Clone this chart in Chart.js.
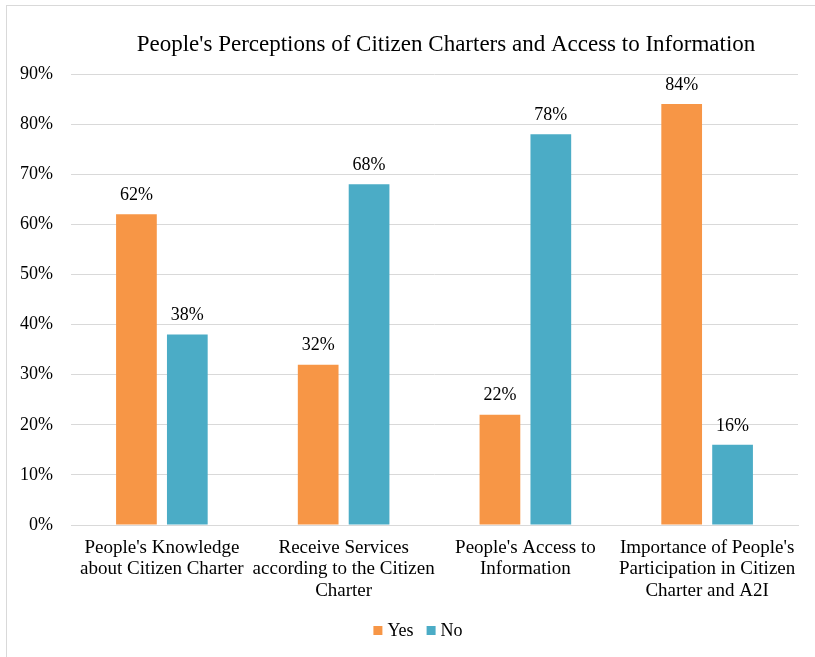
<!DOCTYPE html>
<html>
<head>
<meta charset="utf-8">
<script src="https://cdn.jsdelivr.net/npm/chart.js@4"></script>
<style>
  html, body { margin: 0; padding: 0; background: #fff; }
  #frame { position: absolute; left: 6px; top: 5px; width: 809px; height: 652px;
           border-left: 1px solid #d9d9d9; border-top: 1px solid #d9d9d9; }
  #wrap { position: absolute; left: 0; top: 0; width: 815px; height: 657px; }
</style>
</head>
<body>
<div id="frame"></div>
<div id="wrap"><canvas id="chart"></canvas></div>
<script>
  // Categories and series
  const categories = [
    ["People's Knowledge", "about Citizen Charter"],
    ["Receive Services", "according to the Citizen", "Charter"],
    ["People's Access to", "Information"],
    ["Importance of People's", "Participation in Citizen", "Charter and A2I"]
  ];
  const seriesNames = ['Yes', 'No'];
  const yesValues = [62, 32, 22, 84];
  const noValues = [38, 68, 78, 16];
  const yTicks = [0, 10, 20, 30, 40, 50, 60, 70, 80, 90];
  const chartTitle = "People's Perceptions of Citizen Charters and Access to Information";

  const serif = "'Liberation Serif', 'Times New Roman', serif";

  // Title, value labels and legend drawn by hand so they sit where the original has them
  const decorations = {
    id: 'decorations',
    afterDatasetsDraw(chart) {
      const ctx = chart.ctx;
      ctx.save();
      ctx.fillStyle = '#000';

      // value labels above bars
      ctx.font = '18px ' + serif;
      ctx.textAlign = 'center';
      ctx.textBaseline = 'middle';
      chart.data.datasets.forEach(function (ds, i) {
        chart.getDatasetMeta(i).data.forEach(function (bar, j) {
          ctx.fillText(ds.data[j] + '%', bar.x, bar.y - 19);
        });
      });

      // title
      ctx.font = '23px ' + serif;
      ctx.textBaseline = 'alphabetic';
      ctx.fillText(chartTitle, 446, 51);

      // legend
      ctx.font = '18px ' + serif;
      ctx.textAlign = 'left';
      ctx.textBaseline = 'middle';
      const box = 9, gap = 5, spacing = 13, cy = 631;
      const widths = chart.data.datasets.map(function (ds) { return ctx.measureText(ds.label).width; });
      let total = 0;
      widths.forEach(function (w, i) { total += box + gap + w + (i ? spacing : 0); });
      let x = 418 - total / 2;
      chart.data.datasets.forEach(function (ds, i) {
        ctx.fillStyle = ds.backgroundColor;
        ctx.fillRect(x, cy - 5, box, box);
        ctx.fillStyle = '#000';
        ctx.fillText(ds.label, x + box + gap, cy);
        x += box + gap + widths[i] + spacing;
      });
      ctx.restore();
    }
  };

  new Chart(document.getElementById('chart'), {
    type: 'bar',
    data: {
      labels: categories,
      datasets: [
        { label: seriesNames[0], data: yesValues, backgroundColor: '#F79646',
          categoryPercentage: 0.56, barPercentage: 0.8 },
        { label: seriesNames[1], data: noValues, backgroundColor: '#4BACC6',
          categoryPercentage: 0.56, barPercentage: 0.8 }
      ]
    },
    options: {
      responsive: true,
      maintainAspectRatio: false,
      animation: false,
      layout: { padding: { left: 0, right: 17, top: 74, bottom: 56 } },
      plugins: {
        title: { display: false },
        legend: { display: false },
        tooltip: { enabled: false }
      },
      scales: {
        x: {
          afterFit(scale) { scale.height = 76; },
          grid: { display: false, drawTicks: false },
          border: { color: '#d9d9d9' },
          ticks: {
            color: '#000',
            font: { family: serif, size: 19, lineHeight: 1.13 },
            padding: 12,
            maxRotation: 0,
            autoSkip: false
          }
        },
        y: {
          min: 0,
          max: 90,
          afterBuildTicks(scale) {
            scale.ticks = yTicks.map(function (v) { return { value: v }; });
          },
          afterFit(scale) { scale.width = 71; },
          grid: { color: '#d9d9d9', drawTicks: false },
          border: { display: false },
          ticks: {
            color: '#000',
            font: { family: serif, size: 18 },
            padding: 18,
            callback: function (v) { return v + '%'; }
          }
        }
      }
    },
    plugins: [decorations]
  });
</script>
</body>
</html>
